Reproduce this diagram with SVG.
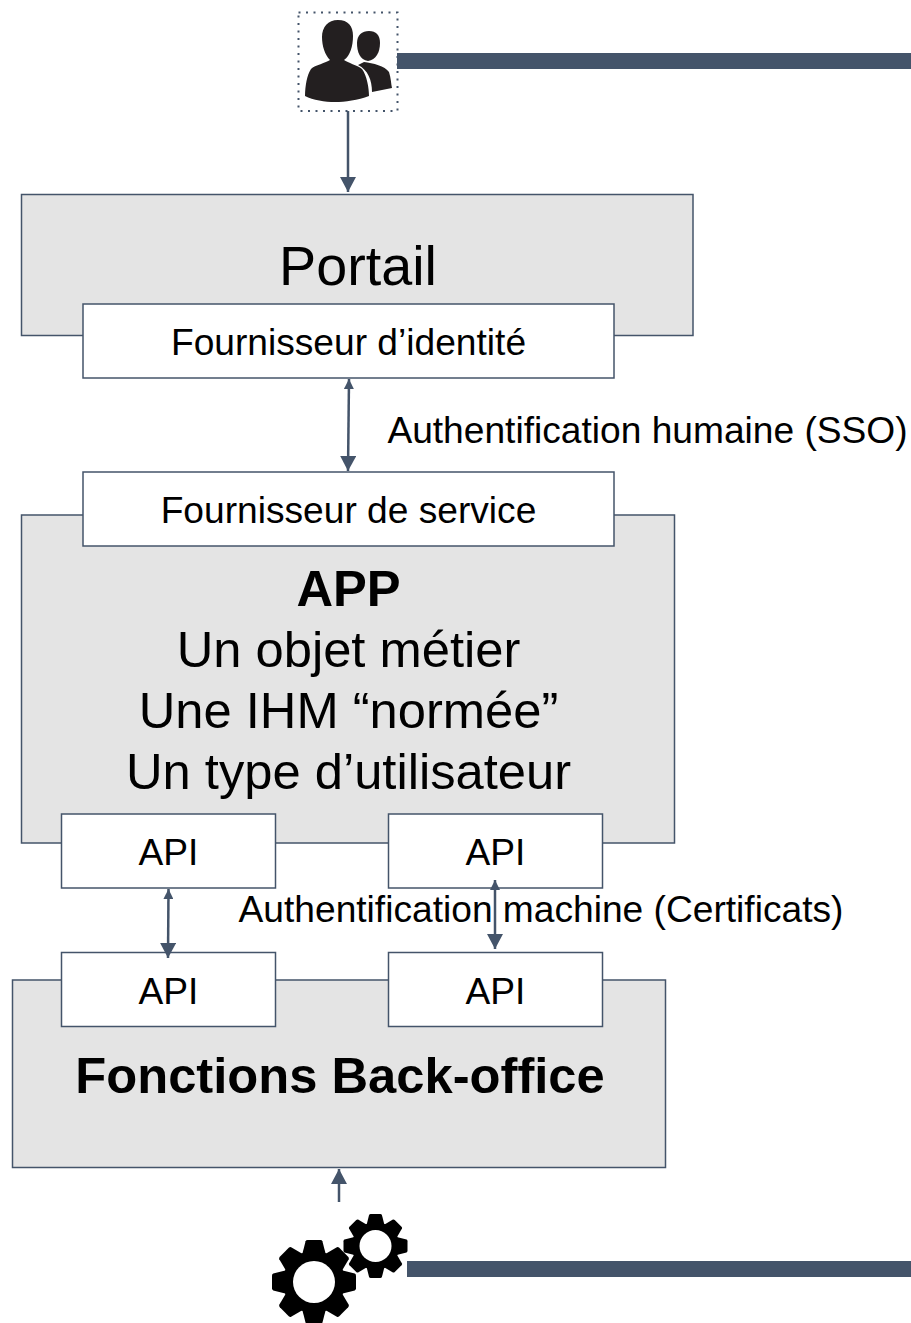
<svg xmlns="http://www.w3.org/2000/svg" width="911" height="1323" viewBox="0 0 911 1323">
<style>
.g{fill:#e4e4e4;stroke:#44546a;stroke-width:1.5}
.w{fill:#fff;stroke:#44546a;stroke-width:1.5}
.c{stroke:#44546a;stroke-width:2.500;fill:none}
.b{fill:#44546a}
text{font-family:"Liberation Sans",Arial,sans-serif;fill:#000;text-anchor:middle}
.s{font-size:37.150px}
.m{font-size:50.700px}
.l{font-size:55.700px}
</style>
<defs>
<marker id="e" markerUnits="userSpaceOnUse" markerWidth="16" markerHeight="16" refX="15" refY="8" orient="auto-start-reverse"><path d="M0,0L15,8L0,16Z" fill="#44546a"/></marker>
<marker id="t" markerUnits="userSpaceOnUse" markerWidth="11" markerHeight="10" refX="10" refY="5" orient="auto-start-reverse"><path d="M0,0L10,5L0,10Z" fill="#44546a"/></marker>
<path id="tooth" d="M-.28 -.66L-.2 -.97Q-.19 -1 -.15 -1H.15Q.19 -1 .2 -.97L.28 -.66Z"/>
<g id="gear">
<use href="#tooth"/>
<use href="#tooth" transform="rotate(45)"/>
<use href="#tooth" transform="rotate(90)"/>
<use href="#tooth" transform="rotate(135)"/>
<use href="#tooth" transform="rotate(180)"/>
<use href="#tooth" transform="rotate(225)"/>
<use href="#tooth" transform="rotate(270)"/>
<use href="#tooth" transform="rotate(315)"/>
<circle r=".74"/>
<circle r=".5" fill="#fff"/>
</g>
</defs>

<g id="users">
<rect x="298.500" y="12.500" width="99" height="98.500" fill="none" stroke="#44546a" stroke-width="2" stroke-dasharray="2 5.500"/>
<path fill="#231f20" d="M364 62C373 63 385 66 389 72C391 78 391 84 392 88L372 92C372 80 368 70 358 65Z"/>
<path fill="#231f20" d="M369 31C376 31 380 35 380 43C380 52 376 60 368 61C360 60 357 52 357 43C357 35 362 31 369 31Z"/>
<path fill="#231f20" d="M338 20C348 20 353 26 353 36C353 46 350 56 344 60C348 63 357 65 362 69C367 76 369 88 369 96C358 100 345 102 335 102C325 102 313 100 305 96C305 86 307 75 311 69C315 65 326 63 330 60C325 55 322 46 322 37C322 27 328 20 338 20Z"/>
</g>

<g id="portail">
<rect class="g" x="21.500" y="194.500" width="671.500" height="141"/>
<text class="l" x="358" y="285">Portail</text>
</g>
<g id="fournisseur-identite">
<rect class="w" x="83" y="304" width="531" height="74"/>
<text class="s" x="348.500" y="355">Fournisseur d’identité</text>
</g>
<text id="label-sso" class="s" x="647.500" y="443">Authentification humaine (SSO)</text>

<g id="app">
<rect class="g" x="21.500" y="515" width="653" height="328"/>
<text class="m" x="348.500" y="606" font-weight="700">APP</text>
<text class="m" x="348.500" y="667">Un objet métier</text>
<text class="m" x="348.500" y="728">Une IHM “normée”</text>
<text class="m" x="348.500" y="789">Un type d’utilisateur</text>
</g>
<g id="fournisseur-service">
<rect class="w" x="83" y="472" width="531" height="74"/>
<text class="s" x="348.500" y="523">Fournisseur de service</text>
</g>
<g id="api-app-1">
<rect class="w" x="61.500" y="814" width="214" height="74"/>
<text class="s" x="168.500" y="865">API</text>
</g>
<g id="api-app-2">
<rect class="w" x="388.500" y="814" width="214" height="74"/>
<text class="s" x="495.500" y="865">API</text>
</g>

<g id="backoffice">
<rect class="g" x="12.500" y="980" width="653" height="187.500"/>
<text class="m" x="340" y="1093" font-weight="700">Fonctions Back-office</text>
</g>
<g id="api-bo-1">
<rect class="w" x="61.500" y="952.500" width="214" height="74"/>
<text class="s" x="168.500" y="1004">API</text>
</g>
<g id="api-bo-2">
<rect class="w" x="388.500" y="952.500" width="214" height="74"/>
<text class="s" x="495.500" y="1004">API</text>
</g>
<text id="label-cert" class="s" x="541" y="922">Authentification machine (Certificats)</text>

<g id="gears">
<use href="#gear" transform="translate(314 1282) scale(42)"/>
<use href="#gear" transform="translate(375.500 1246) scale(32)"/>
</g>

<g id="connectors">
<rect class="b" x="397" y="53" width="514" height="16"/>
<rect class="b" x="407" y="1261" width="504" height="16"/>
<path class="c" d="M348 111V192" marker-end="url(#e)"/>
<path class="c" d="M349 379L348 471" marker-start="url(#t)" marker-end="url(#e)"/>
<path class="c" d="M168.500 889L168 958" marker-start="url(#t)" marker-end="url(#e)"/>
<path class="c" d="M495 880V949" marker-start="url(#t)" marker-end="url(#e)"/>
<path class="c" d="M339 1202V1169" marker-end="url(#e)"/>
</g>
</svg>
